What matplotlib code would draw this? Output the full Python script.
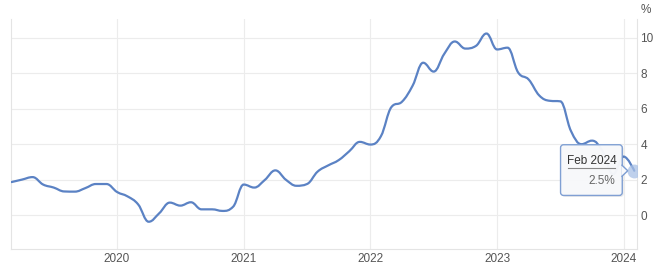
import matplotlib
matplotlib.use("Agg")
import matplotlib.pyplot as plt
import matplotlib.transforms as mtransforms
from matplotlib.path import Path
from matplotlib.patches import PathPatch, Polygon, FancyBboxPatch
import numpy as np

plt.rcParams['font.family'] = ['Liberation Sans', 'DejaVu Sans']

# monthly inflation rate, Mar 2019 .. Feb 2024 (%)
start_year, start_month = 2019, 3
values = [1.86, 2.0, 2.14, 1.72, 1.55, 1.33, 1.32, 1.52, 1.75, 1.75,   # 2019
          1.3, 1.05, 0.6, -0.38, 0.1, 0.7, 0.53, 0.72, 0.32, 0.32, 0.23, 0.47,  # 2020
          1.72, 1.55, 1.98, 2.52, 1.99, 1.65, 1.75, 2.45, 2.8, 3.1, 3.6, 4.13,  # 2021
          3.98, 4.45, 6.1, 6.4, 7.3, 8.6, 8.1, 9.1, 9.8, 9.4, 9.55, 10.25,     # 2022
          9.35, 9.45, 8.05, 7.65, 6.75, 6.45, 6.42, 4.75, 4.0, 4.2, 3.6, 2.3,  # 2023
          3.3, 2.5]                                                             # 2024
year_ticks = [2020, 2021, 2022, 2023, 2024]
y_ticks = [0, 2, 4, 6, 8, 10]
last_label = "Feb 2024"
last_value = "2.5%"

x = np.array([start_year + (start_month - 1 + i) / 12 for i in range(len(values))])
y = np.array(values, dtype=float)


def spline_path(xs, ys, smoothing=1.5):
    # highcharts-like spline through the points
    n = len(xs)
    lc = [(xs[i], ys[i]) for i in range(n)]
    rc = [(xs[i], ys[i]) for i in range(n)]
    denom = smoothing + 1
    for i in range(1, n - 1):
        px, py = xs[i], ys[i]
        lx, ly = xs[i - 1], ys[i - 1]
        nx, ny = xs[i + 1], ys[i + 1]
        lcx = (smoothing * px + lx) / denom
        lcy = (smoothing * py + ly) / denom
        rcx = (smoothing * px + nx) / denom
        rcy = (smoothing * py + ny) / denom
        if rcx != lcx:
            corr = ((rcy - lcy) * (rcx - px)) / (rcx - lcx) + py - rcy
            lcy += corr
            rcy += corr
        if lcy > ly and lcy > py:
            lcy = max(ly, py)
            rcy = 2 * py - lcy
        elif lcy < ly and lcy < py:
            lcy = min(ly, py)
            rcy = 2 * py - lcy
        if rcy > ny and rcy > py:
            rcy = max(ny, py)
            lcy = 2 * py - rcy
        elif rcy < ny and rcy < py:
            rcy = min(ny, py)
            lcy = 2 * py - rcy
        lc[i] = (lcx, lcy)
        rc[i] = (rcx, rcy)
    verts = [(xs[0], ys[0])]
    codes = [Path.MOVETO]
    for i in range(1, n):
        verts += [rc[i - 1], lc[i], (xs[i], ys[i])]
        codes += [Path.CURVE4] * 3
    return Path(verts, codes)


fig = plt.figure(figsize=(6.58, 2.74), dpi=100)
ax = fig.add_axes([10.5 / 658, 25 / 274, (637 - 10.5) / 658, (249 - 19) / 274])

grid_c = '#ececec'
for yt in y_ticks:
    ax.axhline(yt, color=grid_c, lw=0.8, zorder=0)
for xt in year_ticks:
    ax.axvline(xt, color=grid_c, lw=0.8, zorder=0)

ax.add_patch(PathPatch(spline_path(x, y), facecolor='none', edgecolor='#5b82c4',
                       lw=1.6, capstyle='round', joinstyle='round', zorder=3))

ax.set_xlim(2019.159, 2024.105)
ax.set_ylim(-1.92, 11.07)

for s in ax.spines.values():
    s.set_color('#e4e4e4')
    s.set_linewidth(0.8)
ax.spines['top'].set_visible(False)

ax.yaxis.tick_right()
ax.set_yticks(y_ticks)
ax.set_yticklabels([str(v) for v in y_ticks])
ax.set_xticks(year_ticks)
ax.set_xticklabels([str(v) for v in year_ticks])
ax.tick_params(axis='both', length=0, labelsize=8.5, labelcolor='#555555')
ax.tick_params(axis='y', pad=2.5)
ax.tick_params(axis='x', pad=3)
ax.text(1.005, 1.015, '%', transform=ax.transAxes, fontsize=8.5, color='#555555',
        ha='left', va='bottom')

# highlighted last point and tooltip
ax.plot(x[-1], y[-1], 'o', ms=10, color='#a9c1e6', alpha=0.75, mec='none', zorder=4)

tt = mtransforms.Affine2D() + mtransforms.ScaledTranslation(x[-1], y[-1], ax.transData)
bx0, bx1, by0, by1 = -73.7, -12, -24.7, 26
ax.add_patch(FancyBboxPatch((bx0 + 1.5, by0 - 1.5), bx1 - bx0, by1 - by0,
                            boxstyle='round,pad=0,rounding_size=3', transform=tt,
                            facecolor='#000000', alpha=0.08, edgecolor='none',
                            zorder=5, clip_on=False))
ax.add_patch(FancyBboxPatch((bx0, by0), bx1 - bx0, by1 - by0,
                            boxstyle='round,pad=0,rounding_size=3', transform=tt,
                            facecolor='#f8f9fb', alpha=0.97, edgecolor='#7c9dd2',
                            lw=1.0, zorder=6, clip_on=False))
# pointer toward the point
ax.add_patch(Polygon([(bx1 - 0.8, 6), (-6.5, 0), (bx1 - 0.8, -6)], closed=False,
                     transform=tt, facecolor='#f8f9fb', edgecolor='#7c9dd2', lw=1.0,
                     zorder=6.5, clip_on=False))
ax.text(-42.5, 9.5, last_label, transform=tt, fontsize=8.5, color='#333333',
        ha='center', va='center', zorder=7)
ax.plot([-66, -19.5], [2.8, 2.8], transform=tt, color='#888888', lw=0.8, zorder=7,
        clip_on=False)
ax.text(-19.5, -10.5, last_value, transform=tt, fontsize=8.5, color='#666666',
        ha='right', va='center', zorder=7)

fig.savefig('out.png', dpi=100)
